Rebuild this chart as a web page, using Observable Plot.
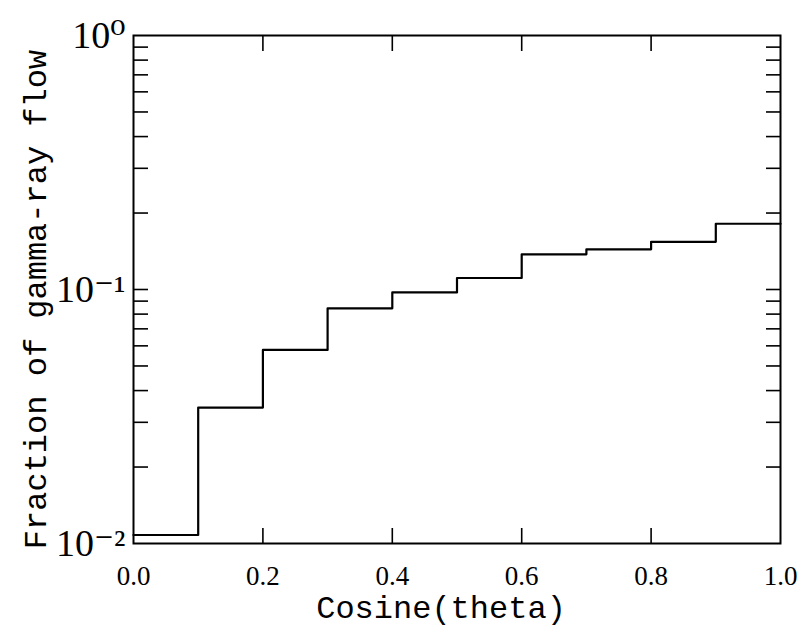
<!DOCTYPE html>
<html><head><meta charset="utf-8">
<script src="https://cdn.jsdelivr.net/npm/d3@7"></script>
<script src="https://cdn.jsdelivr.net/npm/@observablehq/plot@0.6"></script>
<style>body{margin:0;background:#fff}</style>
</head><body><div id="chart"></div>
<script>
const binStart = [0.0, 0.1, 0.2, 0.3, 0.4, 0.5, 0.6, 0.7, 0.8, 0.9];
const binEnd = 1.0;
const fraction = [0.0108, 0.0343, 0.0578, 0.0843, 0.0974, 0.111, 0.1376, 0.144, 0.154, 0.1815];
const xTicks = [0.0, 0.2, 0.4, 0.6, 0.8, 1.0];
const xTickLabels = ["0.0", "0.2", "0.4", "0.6", "0.8", "1.0"];
const xInnerTicks = [0.2, 0.4, 0.6, 0.8];
const yMajor = [0.01, 0.1, 1];
const yMajorLabels = ["10\u207B\u00B2", "10\u207B\u00B9", "10\u2070"];
const yMinor = [0.02, 0.03, 0.04, 0.05, 0.06, 0.07, 0.08, 0.09, 0.2, 0.3, 0.4, 0.5, 0.6, 0.7, 0.8, 0.9];
const xTitle = "Cosine(theta)";
const yTitle = "Fraction of gamma-ray flow";

const steps = binStart.map((x, i) => ({x, y: fraction[i]}));
steps.push({x: binEnd, y: fraction[fraction.length - 1]});

const serif = "'Liberation Serif', 'DejaVu Serif', serif";
const mono = "'Liberation Mono', 'DejaVu Sans Mono', monospace";

const chart = Plot.plot({
  width: 797,
  height: 631,
  marginLeft: 133,
  marginRight: 17,
  marginTop: 35,
  marginBottom: 88,
  style: {fontFamily: serif, background: "#fff", color: "#000"},
  x: {domain: [0, 1]},
  y: {type: "log", domain: [0.01, 1]},
  marks: [
    Plot.frame({stroke: "#000", strokeWidth: 2}),
    Plot.axisX({anchor: "bottom", ticks: xInnerTicks, tickSize: -15, fill: "none", label: null, strokeWidth: 1.6}),
    Plot.axisX({anchor: "top", ticks: xInnerTicks, tickSize: -15, fill: "none", label: null, strokeWidth: 1.6}),
    Plot.axisX({anchor: "bottom", ticks: xTicks, tickSize: 0, tickPadding: 22, label: null,
      tickFormat: d => xTickLabels[xTicks.indexOf(d)], fontSize: 27, fontFamily: serif}),
    Plot.axisY({anchor: "left", ticks: yMinor, tickSize: -15, fill: "none", label: null, strokeWidth: 1.6}),
    Plot.axisY({anchor: "right", ticks: yMinor, tickSize: -15, fill: "none", label: null, strokeWidth: 1.6}),
    Plot.axisY({anchor: "left", ticks: [0.1], tickSize: -15, fill: "none", label: null, strokeWidth: 1.6}),
    Plot.axisY({anchor: "right", ticks: [0.1], tickSize: -15, fill: "none", label: null, strokeWidth: 1.6}),
    Plot.axisY({anchor: "left", ticks: yMajor, tickSize: 0, tickPadding: 8, label: null,
      tickFormat: d => yMajorLabels[yMajor.indexOf(d)], fontSize: 38, fontFamily: serif}),
    Plot.lineY(steps, {x: "x", y: "y", curve: "step-after", stroke: "#000", strokeWidth: 2.2}),
    Plot.text([xTitle], {text: d => d, frameAnchor: "bottom", dy: 64, dx: -16, lineAnchor: "middle", textAnchor: "middle", fontSize: 32, fontFamily: mono}),
    Plot.text([yTitle], {text: d => d, frameAnchor: "left", dx: -98, dy: 10, rotate: -90, lineAnchor: "middle", textAnchor: "middle", fontSize: 32, fontFamily: mono})
  ]
});
document.getElementById("chart").appendChild(chart);
</script>
</body></html>
